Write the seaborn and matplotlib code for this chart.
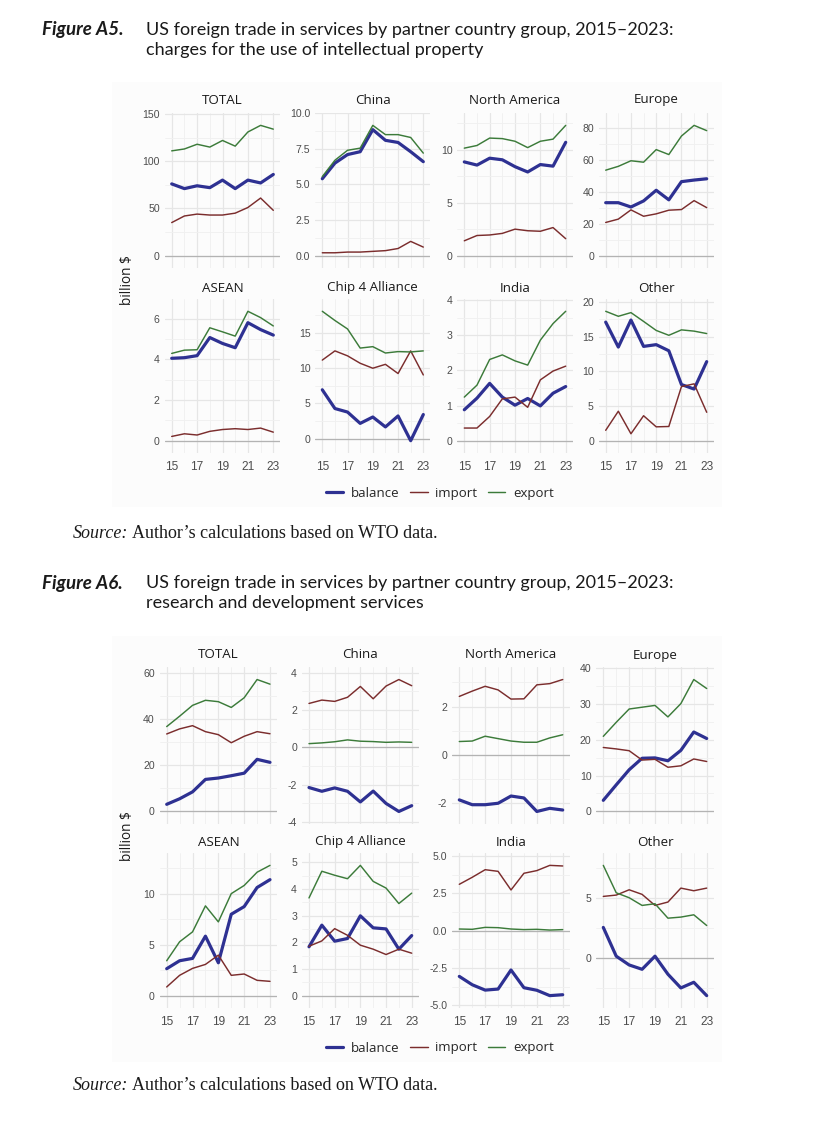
import matplotlib
matplotlib.use("Agg")
import matplotlib.pyplot as plt
import numpy as np
import pandas as pd
import seaborn as sns
from matplotlib.lines import Line2D
from matplotlib.patches import Rectangle

# ---------------- data ----------------
years = [15, 16, 17, 18, 19, 20, 21, 22, 23]
regions = ["TOTAL", "China", "North America", "Europe",
           "ASEAN", "Chip 4 Alliance", "India", "Other"]
series_names = ["balance", "import", "export"]

# Figure A5: charges for the use of intellectual property (billion $)
ip_export = {
    "TOTAL": [111, 113, 118, 115, 122, 116, 131, 138, 134],
    "China": [5.55, 6.7, 7.4, 7.55, 9.15, 8.5, 8.5, 8.3, 7.2],
    "North America": [10.15, 10.4, 11.1, 11.05, 10.8, 10.2, 10.8, 11.0, 12.3],
    "Europe": [53.6, 56, 59.5, 58.6, 66.5, 63.4, 75, 81.7, 78.4],
    "ASEAN": [4.29, 4.45, 4.47, 5.55, 5.35, 5.14, 6.36, 6.05, 5.64],
    "Chip 4 Alliance": [18.0, 16.7, 15.5, 12.8, 13.0, 12.1, 12.3, 12.25, 12.4],
    "India": [1.24, 1.58, 2.31, 2.44, 2.27, 2.15, 2.86, 3.33, 3.68],
    "Other": [18.66, 17.94, 18.47, 17.2, 15.9, 15.2, 15.98, 15.8, 15.45],
}
ip_import = {
    "TOTAL": [35, 42, 44, 43, 43, 45, 51, 61, 48],
    "China": [0.2, 0.2, 0.25, 0.25, 0.3, 0.35, 0.5, 1.0, 0.6],
    "North America": [1.4, 1.9, 1.95, 2.1, 2.5, 2.35, 2.3, 2.65, 1.6],
    "Europe": [20.8, 22.9, 28.7, 24.7, 26.2, 28.5, 28.9, 34.5, 30.1],
    "ASEAN": [0.21, 0.34, 0.28, 0.46, 0.55, 0.59, 0.55, 0.62, 0.42],
    "Chip 4 Alliance": [11.1, 12.4, 11.7, 10.65, 9.95, 10.5, 9.2, 12.4, 9.0],
    "India": [0.36, 0.36, 0.69, 1.19, 1.24, 0.95, 1.73, 1.98, 2.12],
    "Other": [1.5, 4.25, 1.0, 3.6, 2.0, 2.05, 7.8, 8.2, 4.1],
}
ip_balance = {
    "TOTAL": [76, 71, 74, 72, 80, 71, 80, 77, 86],
    "China": [5.4, 6.5, 7.1, 7.3, 8.85, 8.1, 7.95, 7.3, 6.6],
    "North America": [8.85, 8.55, 9.2, 9.05, 8.4, 7.9, 8.6, 8.45, 10.7],
    "Europe": [33.2, 33.2, 30.5, 34.3, 41, 35, 46.4, 47.4, 48.2],
    "ASEAN": [4.05, 4.08, 4.18, 5.07, 4.78, 4.57, 5.8, 5.46, 5.19],
    "Chip 4 Alliance": [6.9, 4.25, 3.75, 2.15, 3.05, 1.65, 3.2, -0.3, 3.4],
    "India": [0.88, 1.21, 1.63, 1.24, 1.01, 1.2, 0.99, 1.35, 1.54],
    "Other": [17.1, 13.5, 17.4, 13.6, 13.85, 12.97, 8.1, 7.45, 11.4],
}

# Figure A6: research and development services (billion $)
rd_export = {
    "TOTAL": [36.8, 41.3, 46, 48.2, 47.6, 45.1, 49.3, 57.2, 55.2],
    "China": [0.2, 0.24, 0.3, 0.4, 0.33, 0.31, 0.27, 0.29, 0.27],
    "North America": [0.55, 0.57, 0.77, 0.67, 0.57, 0.52, 0.52, 0.7, 0.83],
    "Europe": [20.9, 24.8, 28.5, 29, 29.5, 26.3, 30, 36.7, 34.2],
    "ASEAN": [3.42, 5.28, 6.25, 8.8, 7.23, 10.0, 10.8, 12.1, 12.77],
    "Chip 4 Alliance": [3.66, 4.66, 4.51, 4.38, 4.88, 4.28, 4.03, 3.45, 3.84],
    "India": [0.11, 0.09, 0.22, 0.2, 0.11, 0.07, 0.09, 0.04, 0.07],
    "Other": [7.72, 5.44, 5.03, 4.39, 4.53, 3.33, 3.42, 3.61, 2.72],
}
rd_import = {
    "TOTAL": [33.6, 35.8, 37.2, 34.6, 33.3, 29.8, 32.6, 34.6, 33.7],
    "China": [2.35, 2.53, 2.46, 2.68, 3.26, 2.6, 3.28, 3.63, 3.3],
    "North America": [2.42, 2.64, 2.84, 2.69, 2.31, 2.32, 2.9, 2.95, 3.12],
    "Europe": [17.8, 17.4, 16.9, 14.3, 14.5, 12.3, 12.7, 14.6, 13.9],
    "ASEAN": [0.85, 1.99, 2.67, 3.06, 3.97, 1.99, 2.12, 1.5, 1.4],
    "Chip 4 Alliance": [1.85, 2.05, 2.51, 2.26, 1.89, 1.74, 1.54, 1.74, 1.59],
    "India": [3.11, 3.58, 4.09, 3.98, 2.73, 3.85, 4.03, 4.38, 4.34],
    "Other": [5.14, 5.25, 5.69, 5.31, 4.39, 4.67, 5.83, 5.61, 5.83],
}
rd_balance = {
    "TOTAL": [3.1, 5.5, 8.5, 13.9, 14.5, 15.5, 16.6, 22.6, 21.3],
    "China": [-2.15, -2.35, -2.17, -2.35, -2.92, -2.34, -3.0, -3.43, -3.12],
    "North America": [-1.87, -2.07, -2.07, -2.01, -1.71, -1.79, -2.35, -2.22, -2.29],
    "Europe": [3.1, 7.4, 11.6, 14.8, 14.9, 14.1, 17.0, 22.1, 20.3],
    "ASEAN": [2.64, 3.42, 3.65, 5.83, 3.22, 7.98, 8.73, 10.6, 11.37],
    "Chip 4 Alliance": [1.83, 2.64, 2.04, 2.14, 2.99, 2.54, 2.5, 1.74, 2.25],
    "India": [-3.07, -3.63, -3.99, -3.92, -2.64, -3.83, -4.0, -4.36, -4.3],
    "Other": [2.56, 0.17, -0.56, -0.92, 0.17, -1.33, -2.47, -2.0, -3.11],
}

ip_yticks = [[0, 50, 100, 150], [0, 2.5, 5, 7.5, 10], [0, 5, 10], [0, 20, 40, 60, 80],
             [0, 2, 4, 6], [0, 5, 10, 15], [0, 1, 2, 3, 4], [0, 5, 10, 15, 20]]
rd_yticks = [[0, 20, 40, 60], [-4, -2, 0, 2, 4], [-2, 0, 2], [0, 10, 20, 30, 40],
             [0, 5, 10], [0, 1, 2, 3, 4, 5], [-5, -2.5, 0, 2.5, 5], [0, 5]]


def long_frame(bal, imp, exp):
    rows = []
    for r in regions:
        for s, d in zip(series_names, [bal, imp, exp]):
            for y, v in zip(years, d[r]):
                rows.append({"region": r, "year": y, "series": s, "value": v})
    return pd.DataFrame(rows)


df_ip = long_frame(ip_balance, ip_import, ip_export)
df_rd = long_frame(rd_balance, rd_import, rd_export)

# ---------------- style ----------------
sns.set_theme(style="white")
plt.rcParams["font.family"] = ["Liberation Sans", "DejaVu Sans"]

colors = {"balance": "#2e3192", "import": "#7b2d2d", "export": "#3c7b3a"}
widths = {"balance": 2.3, "import": 1.05, "export": 1.05}

W, H = 816, 1122
fig = plt.figure(figsize=(W / 100, H / 100), dpi=100)
fig.patch.set_facecolor("white")


def px_axes(x0, y0, x1, y1):
    return fig.add_axes([x0 / W, 1 - y1 / H, (x1 - x0) / W, (y1 - y0) / H])


def fmt(v, dec):
    return f"{v:.1f}" if dec else f"{v:.0f}"


def draw_block(df, yticks_list, cols, rows, title_y, legend_y, ylab_y, bg):
    fig.patches.append(Rectangle((bg[0] / W, 1 - bg[3] / H), (bg[2] - bg[0]) / W,
                                 (bg[3] - bg[1]) / H, transform=fig.transFigure,
                                 facecolor="#fcfcfc", edgecolor="none", zorder=-5))
    for i, reg in enumerate(regions):
        r, c = divmod(i, 4)
        x15, x23 = cols[c]
        ppy = (x23 - x15) / 8
        top, bot = rows[r]
        ax = px_axes(x15 - 0.55 * ppy, top, x23 + 0.55 * ppy, bot)
        ax.set_facecolor("none")
        sub = df[df["region"] == reg]
        ax.axhline(0, color="#b3b3b3", lw=0.9, zorder=1.5)
        sns.lineplot(data=sub, x="year", y="value", hue="series", size="series",
                     hue_order=series_names, size_order=series_names,
                     palette=colors, sizes=widths, legend=False, ax=ax,
                     estimator=None, zorder=3)
        vals = sub["value"].to_numpy()
        lo, hi = min(0.0, vals.min()), max(0.0, vals.max())
        pad = 0.095 * (hi - lo)
        ax.set_ylim(lo - pad, hi + pad)
        ax.set_xlim(14.45, 23.55)
        yt = yticks_list[i]
        step = yt[1] - yt[0]
        dec = any(abs(t - round(t)) > 1e-9 for t in yt)
        ax.set_yticks(yt)
        ax.set_yticklabels([fmt(t, dec) for t in yt])
        minors = [yt[0] - step / 2] + [t + step / 2 for t in yt]
        minors = [m for m in minors if lo - pad < m < hi + pad]
        ax.set_yticks(minors, minor=True)
        ax.set_xticks([15, 17, 19, 21, 23])
        ax.set_xticks([16, 18, 20, 22], minor=True)
        ax.grid(which="major", color="#e6e6e6", lw=0.9)
        ax.grid(which="minor", color="#f0f0f0", lw=0.6)
        ax.set_axisbelow(True)
        for sp in ax.spines.values():
            sp.set_visible(False)
        ax.tick_params(which="both", length=0, colors="#4d4d4d")
        ax.tick_params(axis="y", pad=3.5, labelsize=7.6)
        ax.tick_params(axis="x", pad=6.0, labelsize=8.6)
        if r == 0:
            ax.tick_params(axis="x", labelbottom=False)
        ax.set_xlabel("")
        ax.set_ylabel("")
        fig.text((x15 + x23) / 2 / W, 1 - title_y[r] / H, reg, ha="center", va="center",
                 fontsize=9.6, color="#1a1a1a", family=["Open Sans", "DejaVu Sans"])
    fig.text(128 / W, 1 - ylab_y / H, "billion $", rotation=90, ha="center", va="center",
             fontsize=9.8, color="#1a1a1a", family=["Open Sans", "DejaVu Sans"])
    handles = [Line2D([], [], color=colors[s], lw=widths[s]) for s in series_names]
    fig.legend(handles, series_names, loc="center", bbox_to_anchor=(440 / W, 1 - legend_y / H),
               ncol=3, frameon=False, handlelength=1.3, handletextpad=0.6,
               columnspacing=0.8, prop={"family": "Open Sans", "size": 9.5})


draw_block(df_ip, ip_yticks,
           cols=[(171.7, 273.3), (322.3, 423.3), (464.3, 565.7), (605.7, 706.7)],
           rows=[(113, 268), (299, 453)], title_y=[100, 288], legend_y=493,
           ylab_y=280, bg=(112, 82, 722, 507))
draw_block(df_rd, rd_yticks,
           cols=[(166.7, 270.0), (309.0, 411.7), (459.3, 562.7), (603.3, 706.7)],
           rows=[(667, 824), (853, 1008)], title_y=[655, 842], legend_y=1048,
           ylab_y=836, bg=(112, 636, 722, 1062))

# ---------------- captions ----------------
cap_font = ["Lato", "DejaVu Sans"]


def caption(y, label, line1, line2):
    fig.text(42 / W, 1 - y / H, label, fontsize=13.5, fontstyle="italic", fontweight="bold",
             va="center", family=cap_font, color="#1a1a1a")
    fig.text(146 / W, 1 - y / H, line1, fontsize=13, va="center", family=cap_font,
             color="#1a1a1a")
    fig.text(146 / W, 1 - (y + 20) / H, line2, fontsize=13, va="center", family=cap_font,
             color="#1a1a1a")


caption(30, "Figure A5.", "US foreign trade in services by partner country group, 2015\u20132023:",
        "charges for the use of intellectual property")
caption(583, "Figure A6.", "US foreign trade in services by partner country group, 2015\u20132023:",
        "research and development services")

fig.canvas.draw()
renderer = fig.canvas.get_renderer()
for y in (533, 1085):
    t = fig.text(73 / W, 1 - y / H, "Source:", fontsize=13, fontstyle="italic",
                 va="center", family=["Liberation Serif", "DejaVu Serif"], color="#1a1a1a")
    bb = t.get_window_extent(renderer=renderer)
    fig.text(bb.x1 / W + 4 / W, 1 - y / H, "Author\u2019s calculations based on WTO data.",
             fontsize=13, va="center", family=["Liberation Serif", "DejaVu Serif"],
             color="#1a1a1a")

fig.savefig("out.png", dpi=100)
